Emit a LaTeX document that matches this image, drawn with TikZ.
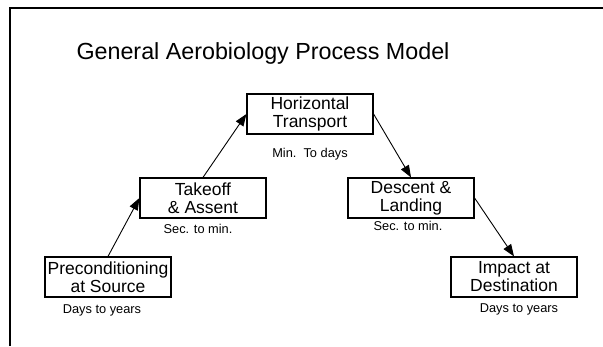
\documentclass[tikz,border=0pt]{standalone}
\usepackage{fontspec}
\setmainfont{Liberation Sans}
\usetikzlibrary{arrows.meta}

\tikzset{
  stagebox/.style={draw, line width=1.2pt, align=center, minimum width=126pt, minimum height=40pt, inner sep=1pt, font=\fontsize{17.5}{18}\selectfont},
  timelbl/.style={font=\fontsize{12.8}{14}\selectfont},
  flow/.style={line width=0.9pt, -{Triangle[length=12pt,width=9pt]}}
}

\begin{document}
\begin{tikzpicture}[x=1pt, y=-1pt]
    \useasboundingbox (0,0) rectangle (603,346);
    % Draw the open frame
    \draw[line width=1.3pt] (10,346) -- (10,8) -- (603,8);

    % Title
    \node (title) at (263,53) {\fontsize{23.3}{25}\selectfont General Aerobiology Process Model};

    % Process stages
    \node[stagebox] (pre) at (108,277) {Preconditioning\\at Source};
    \node[stagebox] (take) at (203,198) {Takeoff\\\& Assent};
    \node[stagebox] (horiz) at (310,114) {Horizontal\\Transport};
    \node[stagebox] (desc) at (411,198) {Descent \&\\Landing};
    \node[stagebox] (imp) at (514,277) {Impact at\\Destination};

    % Time scales
    \node[timelbl] (preT) at (102,310) {Days to years};
    \node[timelbl] (takeT) at (198,229) {Sec. to min.};
    \node[timelbl] (horizT) at (310,154) {Min.~~To days};
    \node[timelbl] (descT) at (408,226) {Sec. to min.};
    \node[timelbl] (impT) at (519,309) {Days to years};

    % Draw the flow arrows
    \draw[flow] (pre.north) -- (take.west);
    \draw[flow] (take.north) -- (horiz.west);
    \draw[flow] (horiz.east) -- (desc.north);
    \draw[flow] (desc.east) -- (imp.north);
\end{tikzpicture}
\end{document}
